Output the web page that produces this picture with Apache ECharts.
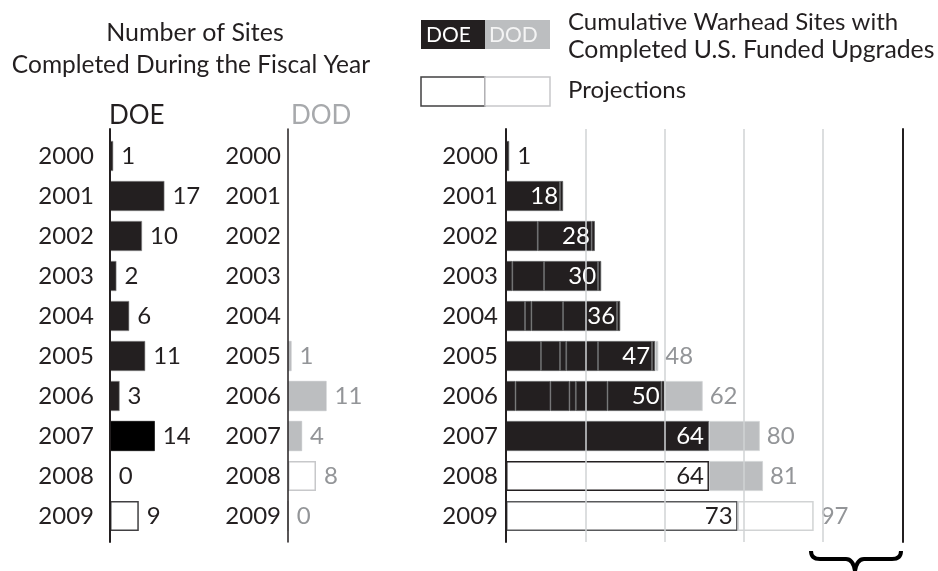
<!DOCTYPE html>
<html><head><meta charset="utf-8">
<script src="https://cdn.jsdelivr.net/npm/echarts@6/dist/echarts.min.js"></script>
<style>html,body{margin:0;padding:0;background:#fff}#c{width:938px;height:571px}</style>
</head><body><div id="c"></div>
<script>
// ---------- data ----------
const years = ['2000','2001','2002','2003','2004','2005','2006','2007','2008','2009'];
const doeAnnual = [1, 17, 10, 2, 6, 11, 3, 14, 0, 9];
const dodAnnual = [null, null, null, null, null, 1, 11, 4, 8, 0];
const doeCumulative = [1, 18, 28, 30, 36, 47, 50, 64, 64, 73];
const totalCumulative = [null, null, null, null, null, 48, 62, 80, 81, 97];
const firstProjectedYear = '2008';
const lastSegmentedYear = '2006';

// ---------- style ----------
const FONT = 'Lato';
const DARK = '#231f20', GRAY = '#bcbec0', GRAY_TEXT = '#939598', GRID = '#d1d3d4';
const FS = 24;
const isProj = i => years[i] >= firstProjectedYear;
const SEG = years.filter(y => y <= lastSegmentedYear).length;

const ROW_TOP = 136, ROW_H = 400, FRAME_TOP = 129, FRAME_H = 413;
const P = {
  doe: {left: 110, width: 64, max: 20},
  dod: {left: 288, width: 70, max: 20},
  cum: {left: 506, width: 396.5, max: 125}
};

function grid(p, top, h) { return {left: p.left, width: p.width, top: top, height: h, containLabel: false, outerBoundsMode: 'none'}; }
function hiddenX(gi, max) { return {type: 'value', gridIndex: gi, min: 0, max: max, show: false}; }
function catY(gi, margin) {
  return {type: 'category', gridIndex: gi, data: years, inverse: true,
    axisLine: {show: false}, axisTick: {show: false}, splitLine: {show: false},
    axisLabel: {fontSize: FS, color: DARK, fontFamily: FONT, margin: margin}};
}
function frameY(gi, pos, w) {
  return {type: 'value', gridIndex: gi, position: pos, min: 0, max: 1, z: 10,
    axisLine: {show: true, onZero: false, lineStyle: {color: DARK, width: w}},
    axisTick: {show: false}, axisLabel: {show: false}, splitLine: {show: false}};
}
const lbl = (color, pos, dist) => ({show: true, position: pos, distance: dist, fontSize: FS, fontFamily: FONT, color: color});

const series = [];
// Left: DOE per year
series.push({type: 'bar', xAxisIndex: 0, yAxisIndex: 0, barWidth: 30,
  label: lbl(DARK, 'right', 8),
  data: doeAnnual.map((v, i) => ({value: v, itemStyle: isProj(i)
    ? {color: '#fff', borderColor: '#414042', borderWidth: 1.5}
    : {color: years[i] === '2007' ? '#000' : DARK, borderColor: years[i] === '2007' ? '#000' : '#8a8a8a', borderWidth: 0.6}}))
});
// Left: DOD per year
series.push({type: 'bar', xAxisIndex: 2, yAxisIndex: 2, barWidth: 30,
  label: lbl(GRAY_TEXT, 'right', 8),
  data: dodAnnual.map((v, i) => v == null ? '-' : ({value: v, itemStyle: isProj(i)
    ? {color: '#fff', borderColor: '#c7c8ca', borderWidth: 1.5}
    : {color: GRAY, borderColor: GRAY, borderWidth: 0.5}}))
});
// Right: cumulative DOE built from yearly increments (latest first)
for (let j = 0; j < SEG; j++) {
  series.push({type: 'bar', xAxisIndex: 4, yAxisIndex: 4, barWidth: 30, barGap: '-100%', stack: 'cum',
    itemStyle: {color: DARK, borderColor: '#58595b', borderWidth: 0.8},
    data: years.map((y, i) => (i < SEG && i - j >= 0) ? doeAnnual[i - j] : '-')});
}
// Right: cumulative DOE as one block for later years
series.push({type: 'bar', xAxisIndex: 4, yAxisIndex: 4, barWidth: 30, barGap: '-100%', stack: 'cum',
  data: years.map((y, i) => i < SEG ? '-' : ({value: doeCumulative[i], itemStyle: isProj(i)
    ? {color: '#fff', borderColor: i === years.length - 1 ? '#58595b' : DARK, borderWidth: 1.5}
    : {color: DARK, borderColor: '#58595b', borderWidth: 0.8}}))
});
// Right: DOD part of cumulative total
series.push({type: 'bar', xAxisIndex: 4, yAxisIndex: 4, barWidth: 30, barGap: '-100%', stack: 'cum',
  label: Object.assign(lbl(GRAY_TEXT, 'right', 7), {formatter: p => totalCumulative[p.dataIndex]}),
  data: years.map((y, i) => totalCumulative[i] == null ? '-' : ({value: totalCumulative[i] - doeCumulative[i],
    itemStyle: i === years.length - 1
      ? {color: '#fff', borderColor: '#d1d3d4', borderWidth: 1.5}
      : {color: GRAY, borderColor: '#d1d3d4', borderWidth: 0.8}}))
});
// Right: cumulative DOE labels
series.push({type: 'bar', xAxisIndex: 4, yAxisIndex: 4, barWidth: 30, barGap: '-100%', silent: true,
  itemStyle: {color: 'rgba(0,0,0,0)'},
  data: doeCumulative.map((v, i) => ({value: v,
    label: v < 5 ? lbl(DARK, 'right', 8) : lbl(isProj(i) ? DARK : '#fff', 'insideRight', 5)}))
});

const txt = (t, x, y, o) => ({type: 'text', x: x, y: y, z: 20, style: Object.assign({text: t, fontSize: 24, fontFamily: FONT, fill: DARK, verticalAlign: 'middle', align: 'left'}, o || {})});
const qb = (x1, y1, cx, cy, x2, y2) => ({type: 'bezierCurve', z: 20, shape: {x1: x1, y1: y1, cpx1: cx, cpy1: cy, x2: x2, y2: y2}, style: {fill: null, stroke: '#000', lineWidth: 4}});
const ln = (x1, y1, x2, y2) => ({type: 'line', z: 20, shape: {x1: x1, y1: y1, x2: x2, y2: y2}, style: {stroke: '#000', lineWidth: 4}});

const option = {
  animation: false,
  backgroundColor: '#fff',
  grid: [grid(P.doe, ROW_TOP, ROW_H), grid(P.doe, FRAME_TOP, FRAME_H),
         grid(P.dod, ROW_TOP, ROW_H), grid(P.dod, FRAME_TOP, FRAME_H),
         grid(P.cum, ROW_TOP, ROW_H), grid(P.cum, FRAME_TOP, FRAME_H)],
  xAxis: [hiddenX(0, P.doe.max), hiddenX(1, P.doe.max), hiddenX(2, P.dod.max), hiddenX(3, P.dod.max), hiddenX(4, P.cum.max),
    {type: 'value', gridIndex: 5, min: 0, max: P.cum.max, interval: 25, z: 10,
     axisLine: {show: false}, axisTick: {show: false}, axisLabel: {show: false},
     splitLine: {show: true, lineStyle: {color: GRID, width: 1.5}}}],
  yAxis: [catY(0, 16), frameY(1, 'left', 2), catY(2, 7), frameY(3, 'left', 1.5), catY(4, 8),
          frameY(5, 'left', 2), frameY(5, 'right', 2)],
  series: series,
  graphic: [
    txt('Number of Sites', 195, 33, {align: 'center', fontSize: 25}),
    txt('Completed During the Fiscal Year', 191, 65, {align: 'center', fontSize: 24.5}),
    txt('DOE', 109, 116, {fontSize: 26}),
    txt('DOD', 291, 116, {fontSize: 26, fill: '#a7a9ac'}),
    {type: 'rect', shape: {x: 421, y: 20, width: 64, height: 29}, style: {fill: DARK}},
    {type: 'rect', shape: {x: 485, y: 20, width: 65, height: 29}, style: {fill: GRAY}},
    txt('DOE', 426, 35, {fontSize: 21, fill: '#fff'}),
    txt('DOD', 489, 35, {fontSize: 21, fill: '#f4f4f4'}),
    {type: 'rect', shape: {x: 421, y: 77, width: 64, height: 29}, style: {fill: '#fff', stroke: '#414042', lineWidth: 1.5}},
    {type: 'rect', shape: {x: 485, y: 77, width: 65, height: 29}, style: {fill: '#fff', stroke: '#c7c8ca', lineWidth: 1.5}},
    txt('Cumulative Warhead Sites with', 568, 22),
    txt('Completed U.S. Funded Upgrades', 568, 50, {fontSize: 24.8}),
    txt('Projections', 568, 90),
    qb(811, 551, 811, 559, 820, 559), ln(820, 559, 846, 559), qb(846, 559, 853, 559, 855, 571),
    qb(855, 571, 857, 559, 864, 559), ln(864, 559, 892, 559), qb(892, 559, 901, 559, 901, 551)
  ]
};
echarts.init(document.getElementById('c')).setOption(option);
</script>
</body></html>
